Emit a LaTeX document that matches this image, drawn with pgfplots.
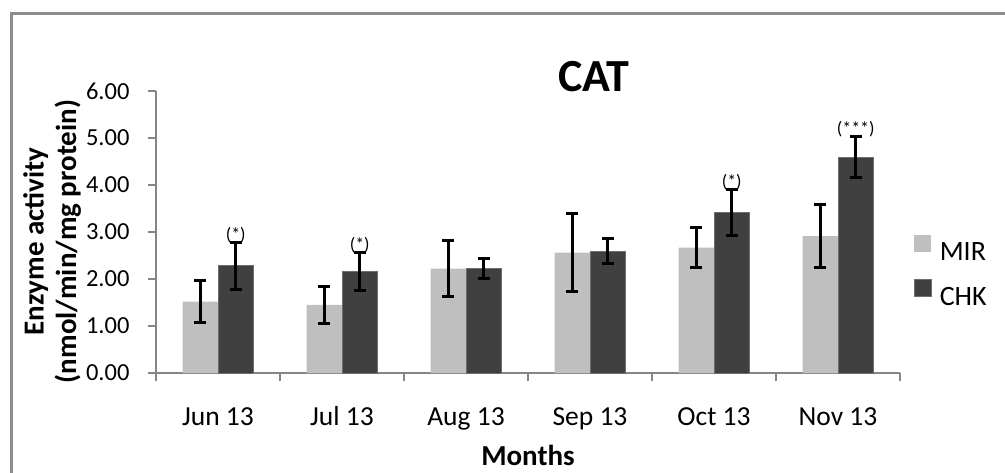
\documentclass[border=0pt]{standalone}
\usepackage{pgfplots}
\pgfplotsset{compat=1.18}
\usepackage{pgfplotstable}
\usepackage{fontspec}
\setmainfont{Carlito}
\definecolor{mirc}{RGB}{191,191,191}
\definecolor{chkc}{RGB}{64,64,64}
\definecolor{chkedge}{RGB}{110,110,110}
\definecolor{axgray}{RGB}{134,134,134}
\definecolor{framegray}{RGB}{140,140,140}

\pgfplotstableread{
x y e
0 1.52 0.44
1 1.45 0.39
2 2.22 0.59
3 2.56 0.83
4 2.67 0.43
5 2.91 0.67
}\mirdata
\pgfplotstableread{
x y e
0 2.28 0.50
1 2.16 0.41
2 2.23 0.21
3 2.59 0.27
4 3.42 0.49
5 4.59 0.44
}\chkdata

\begin{document}
\begin{tikzpicture}[x=1pt,y=1pt]
\draw[framegray, line width=2.6pt] (11.5,-5) -- (11.5,458.5) -- (1010,458.5);
\begin{axis}[
  at={(156pt,99pt)}, anchor=south west,
  scale only axis, width=744pt, height=282pt,
  xmin=-0.5, xmax=5.5, ymin=0, ymax=6,
  clip=false,
  axis lines=left,
  axis line style={axgray, line width=1.3pt, -},
  tick style={axgray, line width=1.3pt},
  tick align=outside, major tick length=8pt,
  xtick={-0.5,0.5,1.5,2.5,3.5,4.5,5.5},
  x tick label as interval,
  xticklabels={Jun 13, Jul 13, Aug 13, Sep 13, Oct 13, Nov 13},
  ytick={0,1,2,3,4,5,6},
  /pgf/number format/assume math mode=true,
  yticklabel style={font=\fontsize{24.5}{26}\selectfont, xshift=-15pt, /pgf/number format/.cd, fixed, fixed zerofill, precision=2},
  xticklabel style={font=\fontsize{27.5}{30}\selectfont, text height=20pt, text depth=6pt, yshift=-21pt},
  ybar=0pt, bar width=35.5pt,
  legend style={at={(1.0188,0.4894)}, anchor=north west, draw=none, fill=none,
    inner sep=0pt, outer sep=0pt, row sep=18pt, /tikz/column sep=8pt,
    font=\fontsize{28}{30}\selectfont,
    nodes={inner sep=0pt, text height=18pt, text depth=0pt}},
  legend cell align=left,
  legend image code/.code={\fill[#1] (0pt,0pt) rectangle (17pt,17pt);},
  error bars/error bar style={black, line width=3pt},
]
\addplot[fill=mirc, draw=none,
  error bars/.cd, y dir=both, y explicit,
  error bar style={black, line width=3pt},
  error mark options={black, rotate=90, mark size=6pt, line width=3pt}]
  table[x=x, y=y, y error=e] {\mirdata};
\addlegendentry{MIR}
\addplot[fill=chkc, draw=chkedge, line width=0.8pt,
  error bars/.cd, y dir=both, y explicit,
  error bar style={black, line width=3pt},
  error mark options={black, rotate=90, mark size=6pt, line width=3pt}]
  table[x=x, y=y, y error=e] {\chkdata};
\addlegendentry{CHK}
\node[font=\fontsize{18}{20}\selectfont, anchor=south, inner sep=0pt] at ([xshift=17.75pt]axis cs:0,2.76) {(*)};
\node[font=\fontsize{18}{20}\selectfont, anchor=south, inner sep=0pt] at ([xshift=17.75pt]axis cs:1,2.55) {(*)};
\node[font=\fontsize{18}{20}\selectfont, anchor=south, inner sep=0pt] at ([xshift=17.75pt]axis cs:4,3.89) {(*)};
\node[font=\fontsize{18}{20}\selectfont, anchor=south, inner sep=0pt] at ([xshift=17.75pt]axis cs:5,5.02) {(***)};
\end{axis}
\node[font=\fontsize{46}{50}\selectfont\bfseries, anchor=base] at (594,380) {CAT};
\node[font=\fontsize{29}{32}\selectfont\bfseries, anchor=base] at (528,7) {Months};
\node[font=\fontsize{29}{32}\selectfont\bfseries, anchor=base, rotate=90] at (43.5,230.5) {Enzyme activity};
\node[font=\fontsize{29}{32}\selectfont\bfseries, anchor=base, rotate=90] at (76,230.5) {(nmol/min/mg protein)};
\pgfresetboundingbox
\path[use as bounding box] (0,0) rectangle (1005,472);
\end{tikzpicture}
\end{document}
